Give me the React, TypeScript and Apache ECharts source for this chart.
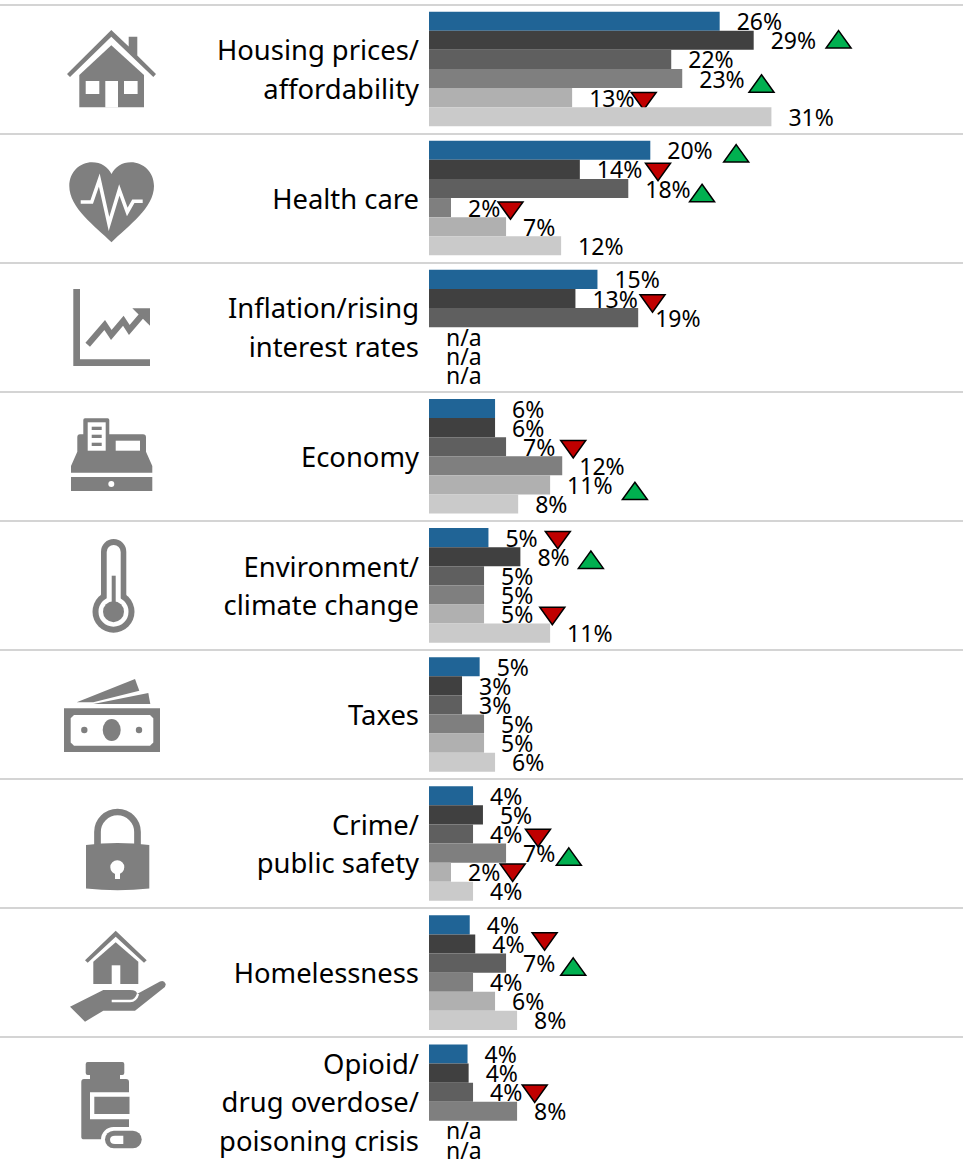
import React, { useEffect, useRef } from "react";
import * as echarts from "echarts";

const categories = [
  "Housing prices/\naffordability",
  "Health care",
  "Inflation/rising\ninterest rates",
  "Economy",
  "Environment/\nclimate change",
  "Taxes",
  "Crime/\npublic safety",
  "Homelessness",
  "Opioid/\ndrug overdose/\npoisoning crisis",
];

// null = "n/a" in the picture
const seriesA = [26.4, 20.1, 15.3, 6, 5.4, 4.6, 4, 3.7, 3.5];
const seriesB = [29.49, 13.7, 13.3, 6, 8.3, 3, 4.9, 4.2, 3.6];
const seriesC = [22, 18.1, 19, 7, 5, 3, 4, 7, 4];
const seriesD = [23, 2, null, 12.1, 5, 5, 7, 4, 8];
const seriesE = [13, 7, null, 11, 5, 5, 2, 6, null];
const seriesF = [31.1, 12, null, 8.1, 11, 6, 4, 8, null];
const allSeries = [seriesA, seriesB, seriesC, seriesD, seriesE, seriesF];

const seriesColors = ["#206496", "#404040", "#5f5f5f", "#7f7f7f", "#b0b0b0", "#cacaca"];

// row, bar in row, direction
const trendMarks: [number, number, "up" | "down"][] = [
  [0, 1, "up"], [0, 3, "up"], [0, 4, "down"],
  [1, 0, "up"], [1, 1, "down"], [1, 2, "up"], [1, 3, "down"],
  [2, 1, "down"],
  [3, 2, "down"], [3, 4, "up"],
  [4, 0, "down"], [4, 1, "up"], [4, 4, "down"],
  [6, 2, "down"], [6, 3, "up"], [6, 4, "down"],
  [7, 1, "down"], [7, 2, "up"],
  [8, 2, "down"],
];
// marker placement on the value scale, and its vertical nudge in px
const trendAnchor = [37.2, 30.2, 19.5, 27.9, 20.8, 24.8, 7.4, 20.3, 13.1, 18.7, 11.7, 14.7, 11.2, 9.9, 12.7, 7.6, 10.5, 13.1, 9.6];
const trendNudge = [-1, 5, 3.5, 3, 2.5, 4.5, 3, 5, 2.5, 6, 2.5, 3, 2, 4, 3.5, 0.5, -2.5, 3.5, 1.5];

const GRID_LEFT = 429;
const GRID_TOP = 4.4;
const ROW_H = 129.1;
const BAR_H = 19.1;
const FONT = "'Noto Sans', sans-serif";

const circle = (cx: number, cy: number, r: number) =>
  `M${cx - r} ${cy}A${r} ${r} 0 1 1 ${cx + r} ${cy}A${r} ${r} 0 1 1 ${cx - r} ${cy}Z`;
const ellipse = (cx: number, cy: number, rx: number, ry: number) =>
  `M${cx - rx} ${cy}A${rx} ${ry} 0 1 1 ${cx + rx} ${cy}A${rx} ${ry} 0 1 1 ${cx - rx} ${cy}Z`;
const rect = (x1: number, y1: number, x2: number, y2: number) => `M${x1} ${y1}H${x2}V${y2}H${x1}Z`;
const capsule = (x1: number, y1: number, x2: number, y2: number) => {
  const r = (x2 - x1) / 2;
  return `M${x1} ${y1 + r}A${r} ${r} 0 0 1 ${x2} ${y1 + r}V${y2 - r}A${r} ${r} 0 0 1 ${x1} ${y2 - r}Z`;
};
const hCapsule = (x1: number, y1: number, x2: number, y2: number) => {
  const r = (y2 - y1) / 2;
  return `M${x1 + r} ${y1}H${x2 - r}A${r} ${r} 0 0 1 ${x2 - r} ${y2}H${x1 + r}A${r} ${r} 0 0 1 ${x1 + r} ${y1}Z`;
};

const G = "#7f7f7f";
const W = "#ffffff";
type Part = { d: string; fill?: string; stroke?: string; lw?: number };
const iconParts: Part[] = [
  // house
  { d: "M111.3 30L128.7 46.5V36.7H137.3V55.5L156 74L153.3 77L111.3 36.7L70 77L67 74Z", fill: G },
  { d: "M111.3 45.3L144 75V107.3H79.3V75Z", fill: G },
  { d: rect(85.7, 81, 99.3, 94), fill: W },
  { d: rect(124, 81, 137.6, 94), fill: W },
  { d: rect(105.3, 81, 118, 107.5), fill: W },
  // heart
  { d: "M111.5 242.3C95 226 69.3 208 69.3 186C69.3 172 80 162.3 92 162.3C101 162.3 108 167 111.5 174C115 167 122 162.3 131 162.3C143 162.3 154 172 154 186C154 208 128 226 111.5 242.3Z", fill: G },
  { d: "M80.7 202H91.7L99.3 180L109 224L119.3 190L127.3 212L133.3 201.3H142.7", stroke: W, lw: 3.6 },
  // growth chart
  { d: "M73.3 289H80V359.3H150V366H73.3Z", fill: G },
  { d: "M87.7 344.7L104.7 325L111.3 335L123.3 320.7L129.3 330L143 314", stroke: G, lw: 6 },
  { d: "M132.3 308.3H150V325.7Z", fill: G },
  // cash register
  { d: "M83.3 420Q83.3 418.3 85 418.3H107.6Q109.3 418.3 109.3 420V434.3H143Q146 434.3 146 437.3V451.7L152.3 466V472.7H71V466L77.3 451.7V437.3Q77.3 434.3 80 434.3H83.3Z", fill: G },
  { d: rect(71, 477, 152.3, 491), fill: G },
  { d: rect(87.7, 422.3, 105.7, 450.7), fill: W },
  { d: rect(91.7, 426.7, 101.7, 430), fill: G },
  { d: rect(91.7, 434.7, 101.7, 438), fill: G },
  { d: rect(91.7, 442.7, 101.7, 446), fill: G },
  { d: rect(115.7, 440.7, 140, 450.7), fill: W },
  { d: circle(111.3, 484, 3), fill: W },
  // thermometer
  { d: capsule(101, 539, 126.3, 610), fill: G },
  { d: circle(113.5, 611.7, 21), fill: G },
  { d: capsule(106.7, 545, 120.7, 610), fill: W },
  { d: circle(113.5, 611.7, 15), fill: W },
  { d: circle(113.5, 611.7, 10.5), fill: G },
  { d: rect(111.7, 575.7, 115.7, 606), fill: G },
  // money
  { d: "M76.7 702.3L135 679L139.3 690.7L93.3 702.3Z", fill: G },
  { d: "M93.3 704L148.3 693L150.3 704Z", fill: G },
  { d: rect(64, 708.3, 160, 752), fill: G },
  { d: "M74 715H150L153.3 718.3V742.4L150 745.7H74L70.7 742.4V718.3Z", fill: W },
  { d: ellipse(111.7, 730, 9, 11), fill: G },
  { d: circle(84.3, 730, 3.2), fill: G },
  { d: circle(139, 730, 3.2), fill: G },
  // lock
  { d: "M97.5 846V832A20 20 0 0 1 137.5 832V846", stroke: G, lw: 6.7 },
  { d: "M86 845Q117.5 841 149.3 845V888.5Q117.5 892 86 888.5Z", fill: G },
  { d: circle(117.3, 867.3, 7), fill: W },
  { d: rect(115, 870, 120, 879), fill: W },
  // homelessness
  { d: "M115.7 930.7L146.7 960.3L144 962.7L115.7 936.7L87.7 962.7L85 960.3Z", fill: G },
  { d: "M115.7 942.3L138.3 961.7V984H93.3V961.7Z", fill: G },
  { d: rect(111.7, 965.3, 120.3, 984.5), fill: W },
  { d: "M70 1006.7L103.3 990H130Q137 990 137 994L160 981.5Q164 979.5 165.7 984Q166 986.5 163 988.5L135 1010.7H103.3L85 1021.7Z", fill: G },
  { d: "M111.7 1001H130Q136 1001 138 994", stroke: W, lw: 2.4 },
  // bottle
  { d: "M87.7 1062H122.3Q124.3 1062 124.3 1064V1073Q124.3 1075 122.3 1075H120V1079H126Q129 1079 129 1082V1137Q129 1139.3 126 1139.3H84Q81.3 1139.3 81.3 1137V1082Q81.3 1079 84 1079H90V1075H87.7Q85.7 1075 85.7 1073V1064Q85.7 1062 87.7 1062Z", fill: G },
  { d: rect(90, 1092.3, 129.5, 1119.3), fill: W },
  { d: rect(94.3, 1096.7, 129.5, 1114), fill: G },
  { d: hCapsule(101, 1127, 145.5, 1152), fill: W },
  { d: hCapsule(105, 1130.7, 141.7, 1148.3), fill: G },
  { d: "M115 1135.7H123.3V1144H115Q110 1144 110 1139.8Q110 1135.7 115 1135.7Z", fill: W },
];

iconParts.forEach((p, i) => {
  echarts.graphic.registerShape("iconPart" + i, echarts.graphic.extendPath(p.d, {}));
});

export default function App() {
  const ref = useRef<HTMLDivElement>(null);
  useEffect(() => {
    const chart = echarts.init(ref.current!, null, { renderer: "svg" });
    const lineStyle = { color: "#c6c6c6", width: 1.5 };
    chart.setOption({
      animation: false,
      tooltip: { show: false },
      grid: { left: GRID_LEFT, top: GRID_TOP, width: 534, height: ROW_H * 9, containLabel: false },
      xAxis: { type: "value", min: 0, max: 48.5, show: false },
      yAxis: {
        type: "category",
        inverse: true,
        data: categories,
        axisLine: { show: false },
        axisTick: { show: true, length: GRID_LEFT, lineStyle },
        splitLine: { show: true, interval: 0, lineStyle },
        axisLabel: {
          interval: 0,
          margin: 10,
          align: "right",
          color: "#000",
          fontFamily: FONT,
          fontSize: 27.4,
          lineHeight: 38.5,
          padding: [2, 0, 0, 0],
        },
      },
      series: [
        ...allSeries.map((vals, si) => ({
          type: "bar",
          name: "Series " + (si + 1),
          barWidth: BAR_H,
          barGap: 0,
          data: vals.map((v) => (v === null ? 0 : v)),
          itemStyle: { color: seriesColors[si] },
          label: {
            show: true,
            position: "right",
            distance: 17,
            color: "#000",
            fontFamily: FONT,
            fontSize: 23,
            formatter: (p: any) => (vals[p.dataIndex] === null ? "n/a" : Math.round(p.value) + "%"),
          },
        })),
        {
          type: "custom",
          name: "Trend",
          coordinateSystem: "cartesian2d",
          clip: false,
          silent: true,
          encode: { x: 0, y: 1 },
          data: trendMarks.map((m, i) => [trendAnchor[i], m[0], m[1], m[2] === "up" ? 1 : 0, trendNudge[i]]),
          renderItem: (_: any, api: any) => {
            const c = api.coord([api.value(0), api.value(1)]);
            const cy = c[1] + (api.value(2) - 2.5) * BAR_H + api.value(4);
            const up = api.value(3) === 1;
            const hw = 12.5;
            const hh = 8.7;
            const points = up
              ? [[c[0], cy - hh], [c[0] + hw, cy + hh], [c[0] - hw, cy + hh]]
              : [[c[0] - hw, cy - hh], [c[0] + hw, cy - hh], [c[0], cy + hh]];
            return {
              type: "polygon",
              shape: { points },
              style: { fill: up ? "#00b050" : "#c00000", stroke: "#000", lineWidth: 1.5 },
            };
          },
        },
      ],
      graphic: iconParts.map((p, i) => ({
        type: "iconPart" + i,
        x: 0,
        y: 0,
        silent: true,
        style: p.fill
          ? { fill: p.fill, stroke: null }
          : { fill: null, stroke: p.stroke, lineWidth: p.lw, lineJoin: "miter" },
      })),
    });
    return () => chart.dispose();
  }, []);
  return (
    <div style={{ position: "absolute", left: 0, top: 0, width: 963, height: 1161, overflow: "hidden" }}>
      <div ref={ref} style={{ width: 963, height: 1200 }} />
    </div>
  );
}
